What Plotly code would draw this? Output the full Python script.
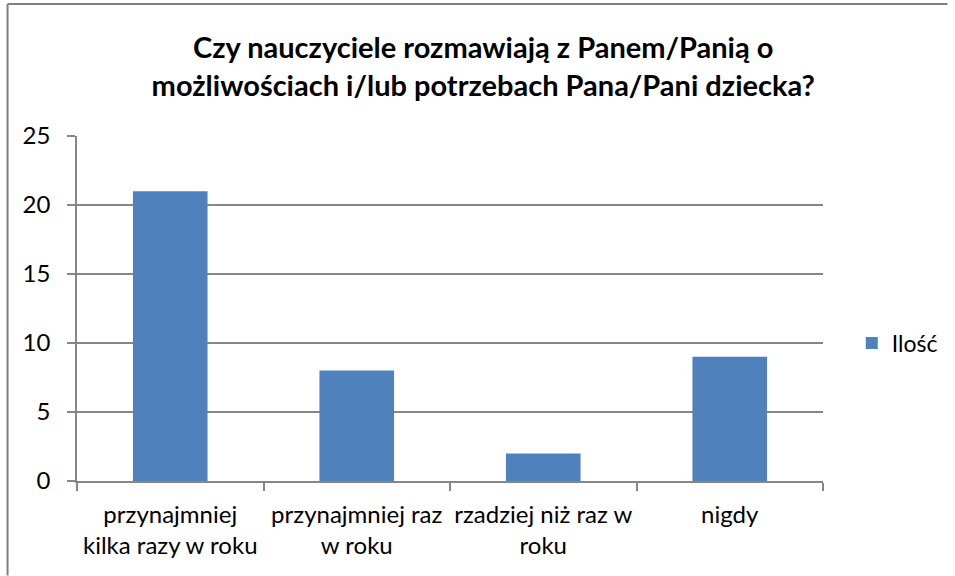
import plotly.graph_objects as go

categories = ["przynajmniej<br>kilka razy w roku", "przynajmniej raz<br>w roku", "rzadziej niż raz w<br>roku", "nigdy"]
values = [21, 8, 2, 9]
series_name = "Ilość"
title_text = "Czy nauczyciele rozmawiają z Panem/Panią o<br>możliwościach i/lub potrzebach Pana/Pani dziecka?"

W, H = 955, 576
ml, mr, mt, mb = 77, 126, 136, 95
pw, ph = W - ml - mr, H - mt - mb

font_family = "Lato, Liberation Sans, sans-serif"
axis_col = "#868686"

fig = go.Figure()
fig.add_trace(go.Bar(x=categories, y=values, name=series_name,
                     marker=dict(color="#4F81BD", line=dict(width=0)),
                     width=0.4, showlegend=True))

fig.update_layout(
    width=W, height=H,
    margin=dict(l=ml, r=mr, t=mt, b=mb),
    paper_bgcolor="white", plot_bgcolor="white",
    font=dict(family=font_family, size=24, color="black"),
    title=dict(text="<b>" + title_text + "</b>", x=0.506, xref="container", xanchor="center",
               y=1 - 58 / H, yanchor="middle", yref="container",
               font=dict(size=29, family=font_family, color="black")),
    showlegend=True,
    legend=dict(x=(858 - ml) / pw, xanchor="left", y=1 - (343 - mt) / ph, yanchor="middle",
                font=dict(size=23), itemwidth=30, bgcolor="rgba(0,0,0,0)",
                borderwidth=0),
    bargap=0.6,
)
fig.update_xaxes(type="category", showgrid=False, showline=True, linecolor=axis_col, linewidth=1.5,
                 ticks="outside", tickson="boundaries", ticklen=8, tickcolor=axis_col, tickwidth=1.5,
                 tickfont=dict(size=24), tickangle=0, automargin=False, ticklabelstandoff=11)
fig.update_yaxes(range=[0, 25], dtick=5, showgrid=True, gridcolor=axis_col, gridwidth=1.5,
                 showline=True, linecolor=axis_col, linewidth=1.5, ticks="outside", ticklen=8,
                 tickcolor=axis_col, tickwidth=1.5, tickfont=dict(size=24), zeroline=False,
                 automargin=False, ticklabelstandoff=12)

# outer chart border: only the left and top edges fall inside the frame
bx, by = 7, 4
fig.add_shape(type="line", xref="paper", yref="paper",
              x0=(bx - ml) / pw, x1=(bx - ml) / pw,
              y0=-(mb - 0.5) / ph, y1=1 + (mt - by) / ph,
              line=dict(color="#7f7f7f", width=2), layer="below")
fig.add_shape(type="line", xref="paper", yref="paper",
              x0=(bx - ml) / pw, x1=(W - 0.5 - ml) / pw,
              y0=1 + (mt - by) / ph, y1=1 + (mt - by) / ph,
              line=dict(color="#7f7f7f", width=2), layer="below")

fig.write_html("out.html", config={"displayModeBar": False},
               post_script="document.body.style.margin='0';document.body.style.overflow='hidden';")
